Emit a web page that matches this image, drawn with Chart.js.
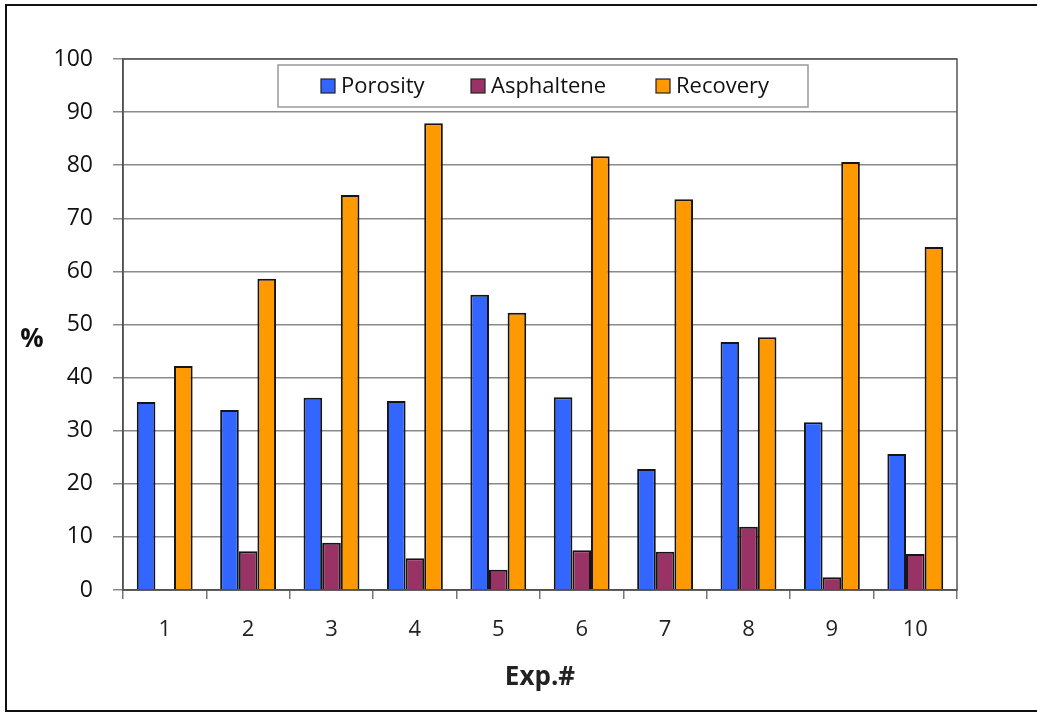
<!DOCTYPE html>
<html>
<head>
<meta charset="utf-8">
<script src="https://cdn.jsdelivr.net/npm/chart.js@4/dist/chart.umd.min.js"></script>
<style>
  html, body { margin: 0; padding: 0; background: #fff; }
  #wrap { position: relative; width: 1037px; height: 713px; }
</style>
</head>
<body>
<div id="wrap"><canvas id="barChart" width="1037" height="713"></canvas></div>
<script>
// ── Data ──────────────────────────────────────────────────────
const experiments = ['1', '2', '3', '4', '5', '6', '7', '8', '9', '10'];
const porosity    = [35.4, 33.9, 36.2, 35.6, 55.6, 36.3, 22.8, 46.7, 31.6, 25.6];
const asphaltene  = [0, 7.3, 8.9, 6.0, 3.8, 7.5, 7.2, 11.9, 2.4, 6.8];
const recovery    = [42.2, 58.6, 74.4, 87.9, 52.2, 81.7, 73.6, 47.6, 80.6, 64.6];
const yTicks      = [0, 10, 20, 30, 40, 50, 60, 70, 80, 90, 100];

const FONT = "'Open Sans', 'Noto Sans', sans-serif";

// ── Frame, plot border, % label and boxed legend ──────────────
const decorPlugin = {
  id: 'decor',
  afterDraw(chart) {
    const { ctx, chartArea: a } = chart;
    ctx.save();

    // outer frame (right side falls off the canvas)
    ctx.strokeStyle = '#111';
    ctx.lineWidth = 2;
    ctx.strokeRect(6, 5, 1040, 706);

    // plot border
    ctx.strokeStyle = '#555';
    ctx.lineWidth = 1.5;
    ctx.strokeRect(a.left, a.top, a.right - a.left, a.bottom - a.top);

    // y title, not rotated
    ctx.fillStyle = '#111';
    ctx.font = `bold 26px ${FONT}`;
    ctx.textAlign = 'center';
    ctx.textBaseline = 'middle';
    ctx.fillText('%', 32, 340);

    // legend box inside the plot area
    const lx = a.left + 155, ly = a.top + 6, lw = 530, lh = 42;
    ctx.fillStyle = '#fff';
    ctx.fillRect(lx, ly, lw, lh);
    ctx.strokeStyle = '#999';
    ctx.lineWidth = 1.5;
    ctx.strokeRect(lx, ly, lw, lh);

    const offsets = [43, 193, 378];
    ctx.font = `22px ${FONT}`;
    ctx.textAlign = 'left';
    chart.data.datasets.forEach((ds, i) => {
      const sx = lx + offsets[i], sy = ly + lh / 2 - 7;
      ctx.fillStyle = ds.backgroundColor;
      ctx.fillRect(sx, sy, 14, 14);
      ctx.strokeStyle = '#222';
      ctx.lineWidth = 1.2;
      ctx.strokeRect(sx, sy, 14, 14);
      ctx.fillStyle = '#111';
      ctx.fillText(ds.label, sx + 20, ly + lh / 2 + 1);
    });
    ctx.restore();
  },
};

// ── Bar Chart ─────────────────────────────────────────────────
const barStyle = {
  borderColor:   '#151515',
  borderWidth:   2,
  borderSkipped: 'start',
  barPercentage: 1.0,
  categoryPercentage: 0.67,
};

new Chart(document.getElementById('barChart'), {
  type: 'bar',
  data: {
    labels: experiments,
    datasets: [
      { label: 'Porosity',   data: porosity,   backgroundColor: '#3366ff', ...barStyle },
      { label: 'Asphaltene', data: asphaltene, backgroundColor: '#993366', ...barStyle },
      { label: 'Recovery',   data: recovery,   backgroundColor: '#ff9900', ...barStyle },
    ],
  },
  options: {
    responsive: false,
    animation:  false,
    layout: { padding: { top: 59, right: 80, bottom: 0, left: 0 } },
    plugins: {
      legend:  { display: false },
      tooltip: { enabled: false },
    },
    scales: {
      x: {
        afterFit: (s) => { s.height = 123; },
        grid: {
          offset: true,
          drawOnChartArea: false,
          tickLength: 9,
          tickColor: '#777',
          lineWidth: 1.5,
        },
        border: { color: '#444', width: 1.5 },
        ticks: {
          color: '#222',
          padding: 18,
          font: { family: FONT, size: 22 },
        },
        title: {
          display: true,
          text: 'Exp.#',
          color: '#222',
          font: { family: FONT, size: 26, weight: 'bold' },
          padding: { top: 0, bottom: 20 },
        },
      },
      y: {
        min: 0,
        max: 100,
        afterFit: (s) => { s.width = 123; },
        afterBuildTicks: (s) => { s.ticks = yTicks.map(v => ({ value: v })); },
        grid: {
          color: '#8a8a8a',
          lineWidth: 1.5,
          tickLength: 10,
        },
        border: { color: '#444', width: 1.5 },
        ticks: {
          color: '#111',
          padding: 20,
          font: { family: FONT, size: 23 },
        },
      },
    },
  },
  plugins: [decorPlugin],
});
</script>
</body>
</html>
